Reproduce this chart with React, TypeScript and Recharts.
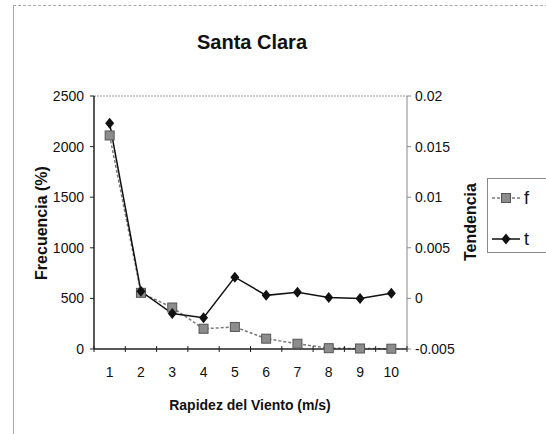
import { ComposedChart, Line, XAxis, YAxis, Legend, ReferenceLine } from "recharts";

const SPEEDS = [1, 2, 3, 4, 5, 6, 7, 8, 9, 10];
const FRECUENCIA = [2110, 555, 410, 200, 218, 102, 52, 8, 5, 3];
const TENDENCIA = [0.0173, 0.0007, -0.0015, -0.0019, 0.0021, 0.0003, 0.0006, 0.0001, 0.0, 0.0005];
const LEFT_TICKS = [0, 500, 1000, 1500, 2000, 2500];
const RIGHT_TICKS = [-0.005, 0, 0.005, 0.01, 0.015, 0.02];

const FONT = '"Liberation Sans", Arial, sans-serif';
const PLOT_W = 313;
const HALF_BAND = PLOT_W / SPEEDS.length / 2;

const data = SPEEDS.map((s, i) => ({ s, f: FRECUENCIA[i], t: TENDENCIA[i] }));

function SquareDot({ cx, cy, index }: any) {
  if (cx == null || cy == null) return null;
  return <rect key={`f${index}`} x={cx - 4.5} y={cy - 4.5} width={9} height={9} fill="#8c8c8c" stroke="#555" strokeWidth={1} />;
}

function DiamondDot({ cx, cy, index }: any) {
  if (cx == null || cy == null) return null;
  return (
    <polygon
      key={`t${index}`}
      points={`${cx},${cy - 5.5} ${cx + 4.5},${cy} ${cx},${cy + 5.5} ${cx - 4.5},${cy}`}
      fill="#111"
    />
  );
}

function XTick({ x, y, payload }: any) {
  const last = payload.value === SPEEDS[SPEEDS.length - 1];
  return (
    <g>
      <line x1={x - HALF_BAND} x2={x - HALF_BAND} y1={y - 3} y2={y + 3} stroke="#222" />
      {last && <line x1={x + HALF_BAND} x2={x + HALF_BAND} y1={y - 3} y2={y + 3} stroke="#222" />}
      <text x={x} y={y + 28} textAnchor="middle" fontSize={14} fontFamily={FONT} fill="#111">
        {payload.value}
      </text>
    </g>
  );
}

function LegendBox() {
  const row = (label: string, kind: "f" | "t") => (
    <div style={{ display: "flex", alignItems: "center", height: 24 }}>
      <svg width={30} height={14}>
        {kind === "f" ? (
          <>
            <line x1={1} x2={29} y1={7} y2={7} stroke="#7a7a7a" strokeWidth={1.5} strokeDasharray="3 2" />
            <rect x={10.5} y={2.5} width={9} height={9} fill="#8c8c8c" stroke="#555" />
          </>
        ) : (
          <>
            <line x1={1} x2={29} y1={7} y2={7} stroke="#111" strokeWidth={1.5} />
            <polygon points="15,1.5 19.5,7 15,12.5 10.5,7" fill="#111" />
          </>
        )}
      </svg>
      <span style={{ marginLeft: 3, fontSize: 18, fontFamily: FONT, color: "#111" }}>{label}</span>
    </div>
  );
  return (
    <div
      style={{
        border: "1px solid #888",
        background: "#fff",
        width: 80,
        height: 75,
        boxSizing: "border-box",
        padding: "7px 0 0 3px",
        display: "flex",
        flexDirection: "column",
        gap: 17,
      }}
    >
      {row("f", "f")}
      {row("t", "t")}
    </div>
  );
}

export default function App() {
  return (
    <div style={{ position: "relative", width: 546, height: 434, overflow: "hidden", background: "#fff", fontFamily: FONT }}>
      <style>{"body{margin:0}"}</style>
      <div
        style={{
          position: "absolute",
          left: 13,
          top: 5,
          right: -2,
          bottom: -2,
          borderLeft: "1px solid #aaa",
          borderTop: "1px dashed #aaa",
        }}
      />
      <div
        style={{
          position: "absolute",
          left: 252,
          top: 42,
          transform: "translate(-50%, -50%)",
          fontSize: 20,
          fontWeight: "bold",
          color: "#111",
          whiteSpace: "nowrap",
        }}
      >
        Santa Clara
      </div>
      <div
        style={{
          position: "absolute",
          left: 42,
          top: 223,
          transform: "translate(-50%, -50%) rotate(-90deg)",
          fontSize: 16,
          fontWeight: "bold",
          color: "#111",
          whiteSpace: "nowrap",
        }}
      >
        Frecuencia (%)
      </div>
      <div
        style={{
          position: "absolute",
          left: 471,
          top: 222,
          transform: "translate(-50%, -50%) rotate(-90deg)",
          fontSize: 16,
          fontWeight: "bold",
          color: "#111",
          whiteSpace: "nowrap",
        }}
      >
        Tendencia
      </div>
      <div
        style={{
          position: "absolute",
          left: 250,
          top: 405,
          transform: "translate(-50%, -50%)",
          fontSize: 14,
          fontWeight: "bold",
          color: "#111",
          whiteSpace: "nowrap",
        }}
      >
        Rapidez del Viento (m/s)
      </div>
      <div style={{ position: "absolute", left: 0, top: 0 }}>
        <ComposedChart width={546} height={434} data={data} margin={{ top: 96, right: 79, bottom: 55, left: 34 }}>
          <XAxis
            dataKey="s"
            type="number"
            domain={[0.5, 10.5]}
            ticks={SPEEDS}
            allowDataOverflow
            height={30}
            tickSize={0}
            tickMargin={0}
            tickLine={false}
            tick={<XTick />}
            axisLine={{ stroke: "#222", strokeWidth: 1.5 }}
          />
          <YAxis
            yAxisId="left"
            domain={[0, 2500]}
            ticks={LEFT_TICKS}
            width={60}
            tickSize={4}
            tickMargin={6}
            axisLine={{ stroke: "#222", strokeWidth: 1.5 }}
            tickLine={{ stroke: "#222" }}
            tick={{ fontSize: 14, fontFamily: FONT, fill: "#111" }}
          />
          <YAxis
            yAxisId="right"
            orientation="right"
            domain={[-0.005, 0.02]}
            ticks={RIGHT_TICKS}
            width={60}
            tickSize={4}
            tickMargin={4}
            axisLine={{ stroke: "#888" }}
            tickLine={{ stroke: "#888" }}
            tick={{ fontSize: 14, fontFamily: FONT, fill: "#111", textAnchor: "start" }}
          />
          <ReferenceLine yAxisId="left" y={2500} stroke="#999" strokeDasharray="2 1" />
          <Line
            yAxisId="left"
            dataKey="f"
            stroke="#7a7a7a"
            strokeWidth={1.5}
            strokeDasharray="3 2"
            dot={<SquareDot />}
            isAnimationActive={false}
          />
          <Line
            yAxisId="right"
            dataKey="t"
            stroke="#111"
            strokeWidth={1.5}
            dot={<DiamondDot />}
            isAnimationActive={false}
          />
          <Legend
            layout="horizontal"
            verticalAlign="middle"
            align="center"
            wrapperStyle={{ left: 487, top: 178, width: 80 }}
            content={() => <LegendBox />}
          />
        </ComposedChart>
      </div>
    </div>
  );
}
